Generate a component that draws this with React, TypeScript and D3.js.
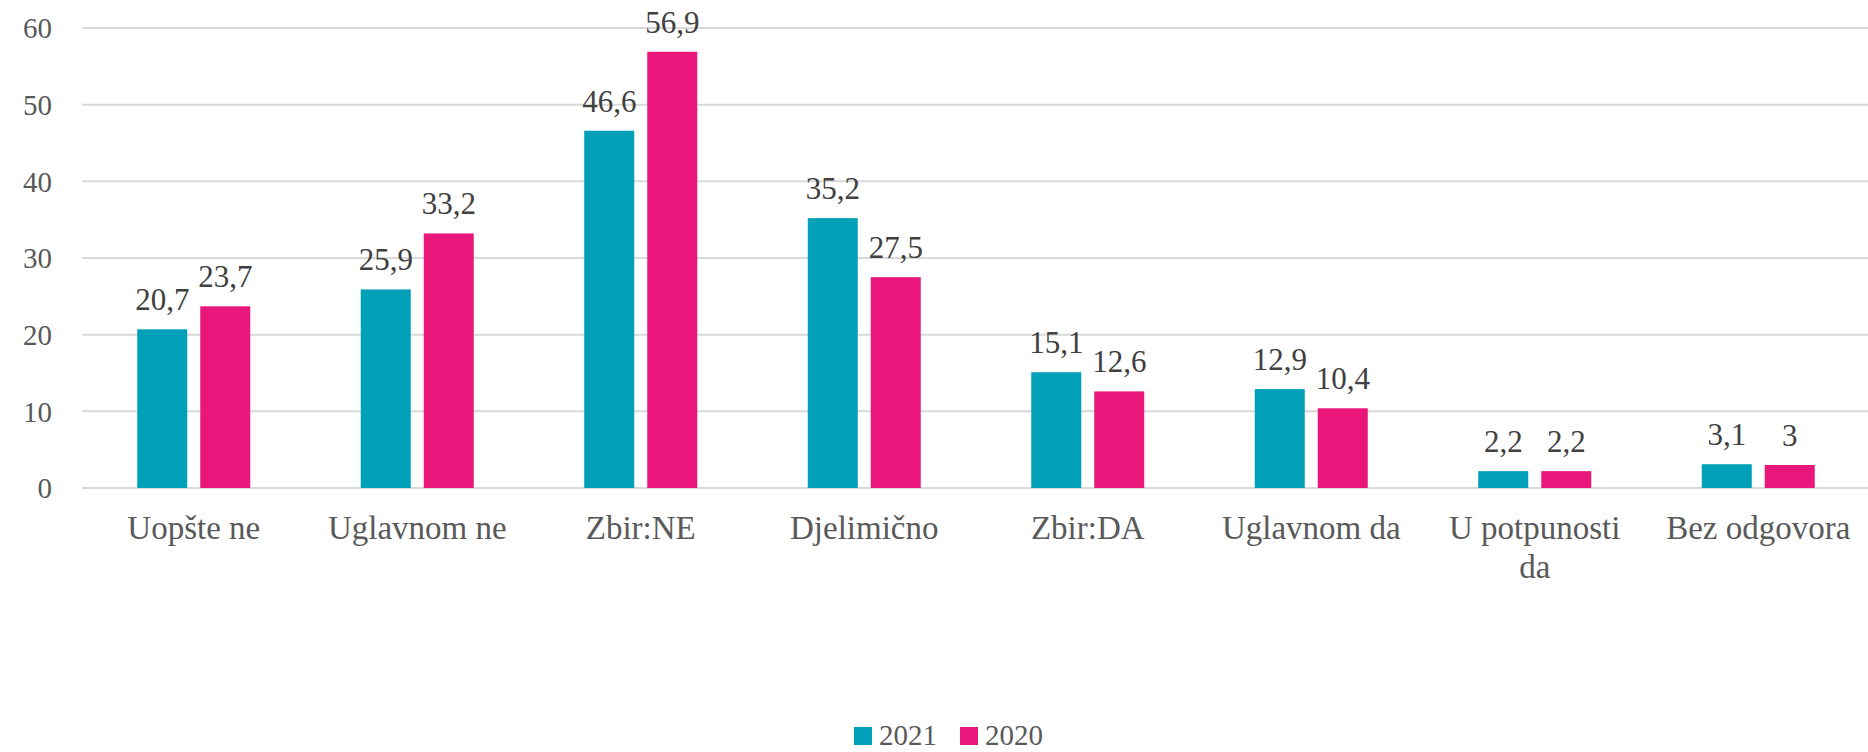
import React from "react";
import * as d3 from "d3";

const categories: string[][] = [
  ["Uopšte ne"],
  ["Uglavnom ne"],
  ["Zbir:NE"],
  ["Djelimično"],
  ["Zbir:DA"],
  ["Uglavnom da"],
  ["U potpunosti", "da"],
  ["Bez odgovora"],
];
const values2021 = [20.7, 25.9, 46.6, 35.2, 15.1, 12.9, 2.2, 3.1];
const values2020 = [23.7, 33.2, 56.9, 27.5, 12.6, 10.4, 2.2, 3];
const seriesNames = ["2021", "2020"];
const yTicks = [0, 10, 20, 30, 40, 50, 60];

const W = 1868;
const H = 752;
const colors = ["#00A0B9", "#E9177B"];
const FONT = "'Liberation Serif', 'Times New Roman', serif";

export default function App() {
  const x = d3
    .scaleBand<number>()
    .domain(d3.range(categories.length))
    .range([82, 1870])
    .paddingInner(0)
    .paddingOuter(0);
  const y = d3.scaleLinear().domain([0, 60]).range([488, 28]);
  const barW = 50;
  const gap = 13;
  const series = [values2021, values2020];
  const fmt = (v: number) => String(v).replace(".", ",");

  return (
    <div style={{ position: "absolute", left: 0, top: 0 }}>
      <svg width={W} height={H} style={{ display: "block", background: "#fff" }}>
        {yTicks.map((t) => (
          <g key={t}>
            <line x1={82} x2={W} y1={y(t)} y2={y(t)} stroke="#D9D9D9" strokeWidth={2} />
            <text
              x={52}
              y={y(t)}
              dy="0.36em"
              textAnchor="end"
              fontFamily={FONT}
              fontSize={29}
              fill="#595959"
            >
              {t}
            </text>
          </g>
        ))}
        {categories.map((c, i) => {
          const cx = x(i)! + x.bandwidth() / 2;
          return (
            <g key={i}>
              {series.map((vals, s) => {
                const bx = s === 0 ? cx - gap / 2 - barW : cx + gap / 2;
                const v = vals[i];
                return (
                  <g key={s}>
                    <rect
                      x={bx}
                      y={y(v)}
                      width={barW}
                      height={y(0) - y(v)}
                      fill={colors[s]}
                    />
                    <text
                      x={bx + barW / 2}
                      y={y(v) - 19}
                      textAnchor="middle"
                      fontFamily={FONT}
                      fontSize={31}
                      fill="#404040"
                    >
                      {fmt(v)}
                    </text>
                  </g>
                );
              })}
              {c.map((line, li) => (
                <text
                  key={li}
                  x={cx}
                  y={539 + li * 39}
                  textAnchor="middle"
                  fontFamily={FONT}
                  fontSize={33}
                  fill="#595959"
                >
                  {line}
                </text>
              ))}
            </g>
          );
        })}
        {seriesNames.map((n, s) => {
          const lx = 854 + s * 106;
          return (
            <g key={n}>
              <rect x={lx} y={727} width={18} height={18} fill={colors[s]} />
              <text x={lx + 25} y={745} fontFamily={FONT} fontSize={29} fill="#595959">
                {n}
              </text>
            </g>
          );
        })}
      </svg>
    </div>
  );
}
